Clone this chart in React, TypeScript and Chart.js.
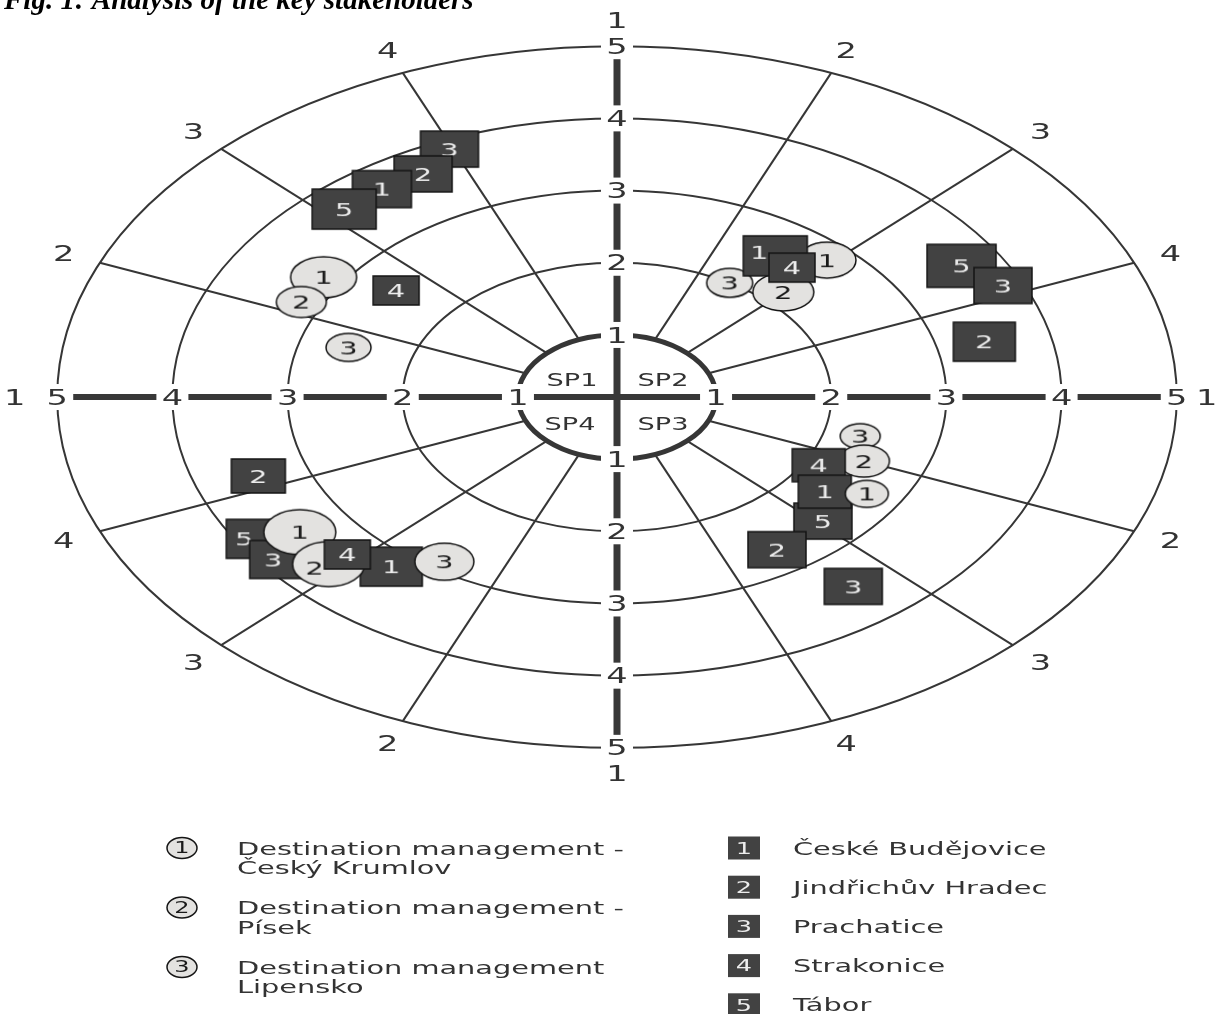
import React, { useEffect, useRef } from 'react';
import { Chart, registerables } from 'chart.js';
Chart.register(...registerables);

// ---------- DATA ----------
const quadrants = ['SP1', 'SP2', 'SP3', 'SP4'];
const ringLevels = [1, 2, 3, 4, 5];
const spokeValues = [2, 3, 4];
const spokeLabels = ['2', '3', '4'];
const axisEndLabel = '1';

// per stakeholder: [sector (1–5, clockwise inside quadrant), level (1–5), weight (marker half-height)] for SP1..SP4
const dmCeskyKrumlov = [[2.47, 3.18, 20.5], [2.95, 2.77, 18], [2.41, 2.69, 13.5], [3.48, 3.47, 22.5]];
const dmPisek = [[2.14, 3.18, 15.5], [2.99, 2.19, 19], [2.0, 2.46, 16], [3.1, 3.55, 22.5]];
const dmLipensko = [[1.73, 2.57, 14], [2.41, 2.0, 14.5], [1.64, 2.32, 12.5], [2.48, 2.87, 18.5]];
const ceskeBudejovice = [[3.43, 3.67, 18.5], [2.56, 2.53, 20], [2.6, 2.37, 16.5], [2.77, 3.2, 19.5]];
const jindrichuvHradec = [[3.73, 3.66, 18], [4.4, 3.42, 19.5], [3.52, 2.67, 18], [4.14, 3.44, 17]];
const prachatice = [[3.98, 3.87, 18], [3.9, 3.83, 18], [3.31, 3.47, 18], [3.33, 3.83, 19]];
const strakonice = [[2.67, 2.56, 14.5], [2.79, 2.49, 14.5], [2.26, 2.13, 16.5], [3.09, 3.34, 14.5]];
const tabor = [[3.12, 3.66, 20], [3.61, 3.64, 21.5], [2.95, 2.62, 18], [3.57, 3.83, 19.5]];

const stakeholders = [
  { key: 'C1', mark: 'circle', id: '1', name: ['Destination management -', 'Český Krumlov'], values: dmCeskyKrumlov },
  { key: 'C2', mark: 'circle', id: '2', name: ['Destination management -', 'Písek'], values: dmPisek },
  { key: 'C3', mark: 'circle', id: '3', name: ['Destination management', 'Lipensko'], values: dmLipensko },
  { key: 'S1', mark: 'square', id: '1', name: ['České Budějovice'], values: ceskeBudejovice },
  { key: 'S2', mark: 'square', id: '2', name: ['Jindřichův Hradec'], values: jindrichuvHradec },
  { key: 'S3', mark: 'square', id: '3', name: ['Prachatice'], values: prachatice },
  { key: 'S4', mark: 'square', id: '4', name: ['Strakonice'], values: strakonice },
  { key: 'S5', mark: 'square', id: '5', name: ['Tábor'], values: tabor },
];

// drawing order (bottom -> top) inside each quadrant
const drawOrder = [
  ['C3', 'S4', 'S3', 'S2', 'S1', 'S5', 'C1', 'C2'],
  ['C3', 'C2', 'C1', 'S1', 'S4', 'S5', 'S3', 'S2'],
  ['C3', 'C2', 'S4', 'S5', 'S1', 'C1', 'S2', 'S3'],
  ['S5', 'S3', 'C1', 'S1', 'C2', 'S4', 'C3', 'S2'],
];

const titleText = 'Fig. 1: Analysis of the key stakeholders';

// ---------- LAYOUT ----------
const W = 1215;
const H = 1014;
const CX = 617;
const CY = 397;
const UNIT_X = 115.2;
const UNIT_Y = 72.2;
const RING_OFFSET = 0.14;
const OUTER_LABEL_LEVEL = 5.34;
const AXIS_END_LEVEL = [5.37, 5.36, 5.26, 5.35]; // left, top, right, bottom
const STRETCH = 1.6;
const QUAD_START = [180, 90, 0, -90];
const FONT = '"DejaVu Sans", Verdana, sans-serif';
const INK = '#333333';
const LINE = '#363636';
// number label nudges (px) for partly covered markers: "quadrantIndex:key"
const LABEL_NUDGE: Record<string, [number, number]> = {
  '1:S1': [-16, -4],
  '3:S5': [-13, 0],
  '3:S3': [-7, 0],
  '3:C2': [-14, 4],
};

function toXY(qi: number, a: number, level: number) {
  const R = level - RING_OFFSET;
  const t = ((QUAD_START[qi] - (a - 1) * 22.5) * Math.PI) / 180;
  return { x: R * Math.cos(t), y: R * Math.sin(t) };
}

function sText(ctx: CanvasRenderingContext2D, text: string, x: number, cyText: number, size: number, color: string, align: CanvasTextAlign = 'center', sx = STRETCH) {
  ctx.save();
  ctx.font = `${size}px ${FONT}`;
  ctx.fillStyle = color;
  ctx.textAlign = align;
  ctx.textBaseline = 'alphabetic';
  ctx.translate(x, cyText + size * 0.3645);
  ctx.scale(sx, 1);
  ctx.fillText(text, 0, 0);
  ctx.restore();
}

function drawMarkerShape(g: CanvasRenderingContext2D, kind: string, id: string, cx: number, cy: number, w: number, h: number, fontSize: number, outline = true, nudge: [number, number] = [0, 0]) {
  g.save();
  g.lineWidth = 1.5;
  g.strokeStyle = '#141414';
  if (kind === 'square') {
    g.fillStyle = '#424242';
    g.fillRect(cx - w / 2, cy - h / 2, w, h);
    if (outline) g.strokeRect(cx - w / 2, cy - h / 2, w, h);
  } else {
    g.beginPath();
    g.ellipse(cx, cy, w / 2, h / 2, 0, 0, Math.PI * 2);
    g.fillStyle = '#e3e2e0';
    g.fill();
    g.stroke();
  }
  g.restore();
  sText(g, id, cx + nudge[0], cy + nudge[1], fontSize, kind === 'square' ? '#ececec' : '#1a1a1a');
}

function makeMarker(kind: string, id: string, r: number, nudge: [number, number]) {
  const h = Math.round(2 * r);
  const w = Math.round(2 * r * STRETCH);
  const c = document.createElement('canvas');
  c.width = w + 4;
  c.height = h + 4;
  const g = c.getContext('2d') as CanvasRenderingContext2D;
  drawMarkerShape(g, kind, id, c.width / 2, c.height / 2, w, h, 18, true, nudge);
  return c;
}

const gridPlugin = {
  id: 'stakeholderGrid',
  beforeDatasetsDraw(chart: any) {
    const ctx: CanvasRenderingContext2D = chart.ctx;
    const xs = chart.scales.x;
    const ys = chart.scales.y;
    const px = (v: number) => xs.getPixelForValue(v);
    const py = (v: number) => ys.getPixelForValue(v);
    const cx = px(0);
    const cy = py(0);
    ctx.save();
    ctx.fillStyle = '#ffffff';
    ctx.fillRect(0, 0, chart.width, chart.height);
    // rings
    ringLevels.forEach((L) => {
      const R = L - RING_OFFSET;
      ctx.beginPath();
      ctx.ellipse(cx, cy, px(R) - cx, cy - py(R), 0, 0, Math.PI * 2);
      ctx.lineWidth = L === 1 ? 5 : 2;
      ctx.strokeStyle = LINE;
      ctx.stroke();
    });
    // spokes
    ctx.lineWidth = 2;
    ctx.strokeStyle = LINE;
    quadrants.forEach((q, qi) => {
      spokeValues.forEach((a) => {
        const p1 = toXY(qi, a, ringLevels[0]);
        const p2 = toXY(qi, a, ringLevels[ringLevels.length - 1]);
        ctx.beginPath();
        ctx.moveTo(px(p1.x), py(p1.y));
        ctx.lineTo(px(p2.x), py(p2.y));
        ctx.stroke();
      });
    });
    // axes
    const R5 = ringLevels[ringLevels.length - 1] - RING_OFFSET;
    ctx.strokeStyle = '#383838';
    ctx.lineWidth = 6;
    ctx.beginPath();
    ctx.moveTo(px(-R5), cy);
    ctx.lineTo(px(R5), cy);
    ctx.stroke();
    ctx.lineWidth = 7;
    ctx.beginPath();
    ctx.moveTo(cx, py(R5));
    ctx.lineTo(cx, py(-R5));
    ctx.stroke();
    // axis tick labels
    ringLevels.forEach((L) => {
      const R = L - RING_OFFSET;
      const pts = [
        [px(-R), cy],
        [px(R), cy],
        [cx, py(R)],
        [cx, py(-R)],
      ];
      pts.forEach(([x, y]) => {
        ctx.fillStyle = '#ffffff';
        ctx.fillRect(x - 16, y - 13, 32, 26);
        sText(ctx, String(L), x, y, 21, INK);
      });
    });
    // outer labels
    quadrants.forEach((q, qi) => {
      const e = toXY(qi, 1, AXIS_END_LEVEL[qi]);
      sText(ctx, axisEndLabel, px(e.x), py(e.y), 21, INK);
      spokeValues.forEach((a, i) => {
        const p = toXY(qi, a, OUTER_LABEL_LEVEL);
        sText(ctx, spokeLabels[i], px(p.x), py(p.y), 21, INK);
      });
    });
    // quadrant names
    const qOff = [
      [-45, -17],
      [46, -17],
      [46, 27],
      [-47, 27],
    ];
    quadrants.forEach((q, qi) => sText(ctx, q, cx + qOff[qi][0], cy + qOff[qi][1], 17, INK));
    ctx.restore();
  },
  afterDraw(chart: any) {
    const ctx: CanvasRenderingContext2D = chart.ctx;
    ctx.save();
    // title (cut at the top)
    ctx.font = 'italic bold 29px "Liberation Serif", "Times New Roman", serif';
    ctx.fillStyle = '#000000';
    ctx.textAlign = 'left';
    ctx.textBaseline = 'alphabetic';
    ctx.fillText(titleText, 4, 9);
    // legend
    const circles = stakeholders.filter((s) => s.mark === 'circle');
    const squares = stakeholders.filter((s) => s.mark === 'square');
    circles.forEach((s, i) => {
      const y = 848 + i * 59.5;
      drawMarkerShape(ctx, 'circle', s.id, 182, y, 30, 21, 15, true);
      s.name.forEach((line, j) => sText(ctx, line, 237, y + j * 19.5, 18, INK, 'left'));
    });
    squares.forEach((s, i) => {
      const y = 848 + i * 39.2;
      drawMarkerShape(ctx, 'square', s.id, 744, y, 32, 23, 16, false);
      s.name.forEach((line, j) => sText(ctx, line, 793, y + j * 19.5, 18, INK, 'left'));
    });
    ctx.restore();
  },
};

export default function App() {
  const ref = useRef<HTMLCanvasElement | null>(null);
  useEffect(() => {
    if (!ref.current) return;
    const points: { x: number; y: number }[] = [];
    const styles: HTMLCanvasElement[] = [];
    drawOrder.forEach((order, qi) => {
      order.forEach((key) => {
        const s = stakeholders.find((t) => t.key === key)!;
        const [a, L, w] = s.values[qi];
        const p = toXY(qi, a, L);
        points.push({ x: p.x, y: p.y });
        styles.push(makeMarker(s.mark, s.id, w, LABEL_NUDGE[`${qi}:${key}`] || [0, 0]));
      });
    });
    const chart = new Chart(ref.current, {
      type: 'scatter',
      data: {
        datasets: [
          {
            label: 'stakeholders',
            data: points,
            pointStyle: (c: any) => styles[c.dataIndex],
            pointRadius: 0.1,
            pointHoverRadius: 0.1,
            pointBorderWidth: 0,
            backgroundColor: 'rgba(0,0,0,0)',
            borderColor: 'rgba(0,0,0,0)',
            showLine: false,
          } as any,
        ],
      },
      options: {
        responsive: true,
        maintainAspectRatio: false,
        animation: false,
        events: [],
        layout: { padding: 0 },
        scales: {
          x: { type: 'linear', display: false, min: -CX / UNIT_X, max: (W - CX) / UNIT_X },
          y: { type: 'linear', display: false, min: -(H - CY) / UNIT_Y, max: CY / UNIT_Y },
        },
        plugins: { legend: { display: false }, tooltip: { enabled: false }, title: { display: false } },
      },
      plugins: [gridPlugin],
    });
    return () => chart.destroy();
  }, []);
  return (
    <div style={{ position: 'absolute', left: 0, top: 0, width: W, height: H, background: '#fff' }}>
      <canvas ref={ref} />
    </div>
  );
}
